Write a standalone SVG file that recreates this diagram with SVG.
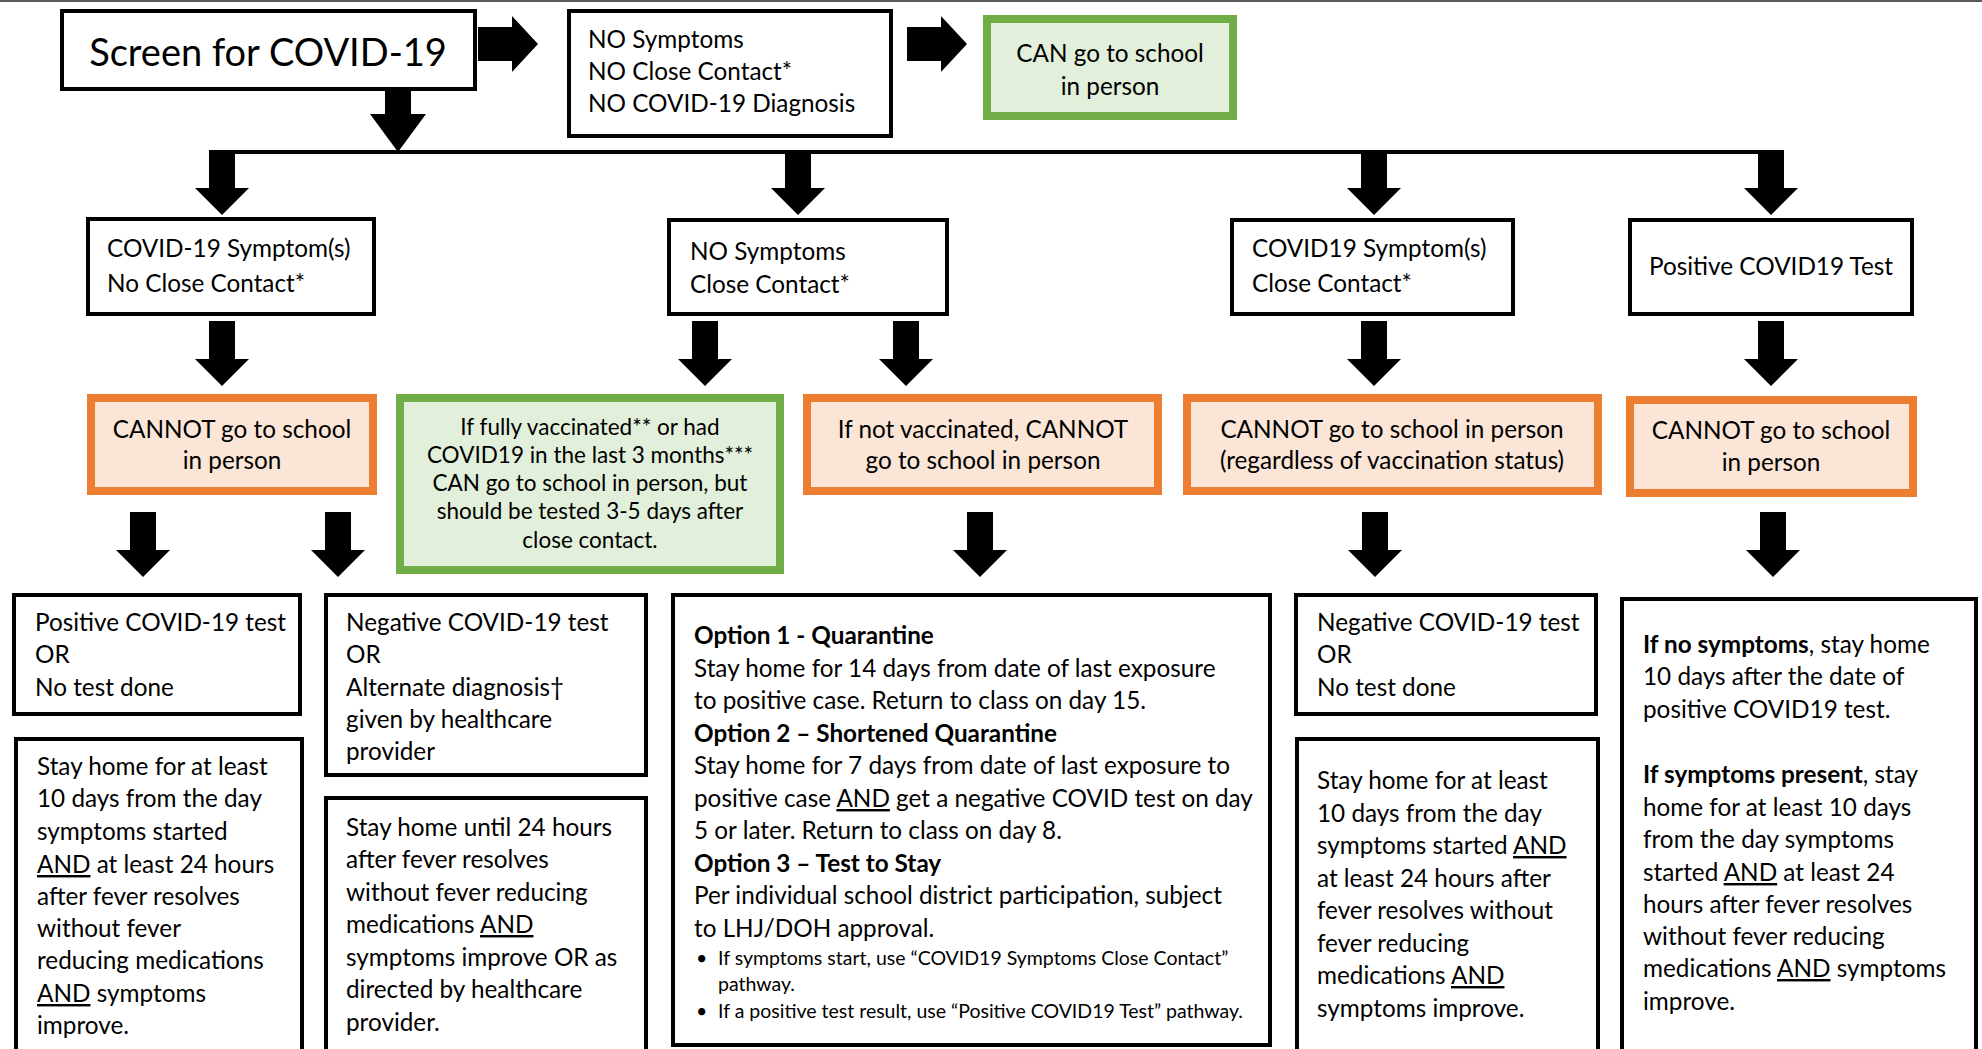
<svg xmlns="http://www.w3.org/2000/svg" xmlns:xlink="http://www.w3.org/1999/xlink" width="1982" height="1049" viewBox="0 0 1982 1049">
<style>
.box{fill:#fff;stroke:#000;stroke-width:4}
.obox{fill:#FBE5D6;stroke:#ED7D31;stroke-width:8}
.gbox{fill:#E2EFDA;stroke:#70AD47;stroke-width:8}
text{font-family:Lato,"Open Sans",sans-serif;font-size:24.3px;fill:#000}
.c{text-anchor:middle}
.title{font-size:38px}
.g{font-size:22.5px}
.sm{font-size:19.5px}
.b{font-weight:bold}
.u{text-decoration:underline}
.arrow{fill:#000}
</style>
<defs>
<path id="da" d="M-13,0 H13 V38 H27 L0,65 L-27,38 H-13 Z"/>
<path id="ra" d="M0,-17 H34 V-28 L60,0 L34,28 V17 H0 Z"/>
</defs>
<rect width="1982" height="1049" fill="#fff"/>
<line x1="0" y1="1" x2="1982" y2="1" stroke="#595959" stroke-width="2"/>

<g id="connectors" class="arrow">
<use xlink:href="#ra" x="478" y="44"/>
<use xlink:href="#ra" x="907" y="44"/>
<path d="M385,91 H411 V114 H426 L398,152 L370,114 H385 Z"/>
<line x1="222" y1="152" x2="1771" y2="152" stroke="#000" stroke-width="4"/>
<use xlink:href="#da" x="222" y="150"/>
<use xlink:href="#da" x="798" y="150"/>
<use xlink:href="#da" x="1374" y="150"/>
<use xlink:href="#da" x="1771" y="150"/>
<use xlink:href="#da" x="222" y="321"/>
<use xlink:href="#da" x="705" y="321"/>
<use xlink:href="#da" x="906" y="321"/>
<use xlink:href="#da" x="1374" y="321"/>
<use xlink:href="#da" x="1771" y="321"/>
<use xlink:href="#da" x="143" y="512"/>
<use xlink:href="#da" x="338" y="512"/>
<use xlink:href="#da" x="980" y="512"/>
<use xlink:href="#da" x="1375" y="512"/>
<use xlink:href="#da" x="1773" y="512"/>
</g>

<g id="screen">
<rect class="box" x="62" y="11" width="413" height="78"/>
<text class="title c" x="268" y="66">Screen for COVID-19</text>
</g>
<g id="no-symptoms">
<rect class="box" x="569" y="11" width="322" height="125"/>
<text x="588" y="48">NO Symptoms</text>
<text x="588" y="80">NO Close Contact*</text>
<text x="588" y="112">NO COVID-19 Diagnosis</text>
</g>
<g id="can-go">
<rect class="gbox" x="987" y="19" width="246" height="97"/>
<text class="c" x="1110" y="62">CAN go to school</text>
<text class="c" x="1110" y="95">in person</text>
</g>

<g id="sym-no-contact">
<rect class="box" x="88" y="219" width="286" height="95"/>
<text x="107" y="257">COVID-19 Symptom(s)</text>
<text x="107" y="292">No Close Contact*</text>
</g>
<g id="nosym-contact">
<rect class="box" x="669" y="220" width="278" height="94"/>
<text x="690" y="260">NO Symptoms</text>
<text x="690" y="293">Close Contact*</text>
</g>
<g id="sym-contact">
<rect class="box" x="1232" y="220" width="281" height="94"/>
<text x="1252" y="257">COVID19 Symptom(s)</text>
<text x="1252" y="292">Close Contact*</text>
</g>
<g id="positive-test">
<rect class="box" x="1630" y="220" width="282" height="94"/>
<text class="c" x="1771" y="275">Positive COVID19 Test</text>
</g>

<g id="cannot-1">
<rect class="obox" x="91" y="398" width="282" height="93"/>
<text class="c" x="232" y="438">CANNOT go to school</text>
<text class="c" x="232" y="469">in person</text>
</g>
<g id="vaccinated">
<rect class="gbox" x="400" y="398" width="380" height="172"/>
<text class="g c" x="590" y="435">If fully vaccinated** or had</text>
<text class="g c" x="590" y="463">COVID19 in the last 3 months***</text>
<text class="g c" x="590" y="491">CAN go to school in person, but</text>
<text class="g c" x="590" y="519">should be tested 3-5 days after</text>
<text class="g c" x="590" y="548">close contact.</text>
</g>
<g id="not-vaccinated">
<rect class="obox" x="807" y="398" width="351" height="93"/>
<text class="c" x="983" y="438">If not vaccinated, CANNOT</text>
<text class="c" x="983" y="469">go to school in person</text>
</g>
<g id="cannot-3">
<rect class="obox" x="1187" y="398" width="411" height="93"/>
<text class="c" x="1392" y="438">CANNOT go to school in person</text>
<text class="c" x="1392" y="469">(regardless of vaccination status)</text>
</g>
<g id="cannot-4">
<rect class="obox" x="1630" y="400" width="283" height="93"/>
<text class="c" x="1771" y="439">CANNOT go to school</text>
<text class="c" x="1771" y="471">in person</text>
</g>

<g id="positive-or-none">
<rect class="box" x="14" y="595" width="286" height="119"/>
<text x="35" y="631">Positive COVID-19 test</text>
<text x="35" y="663">OR</text>
<text x="35" y="696">No test done</text>
</g>
<g id="negative-alt">
<rect class="box" x="326" y="595" width="320" height="180"/>
<text x="346" y="631">Negative COVID-19 test</text>
<text x="346" y="663">OR</text>
<text x="346" y="696">Alternate diagnosis†</text>
<text x="346" y="728">given by healthcare</text>
<text x="346" y="760">provider</text>
</g>
<g id="options">
<rect class="box" x="673" y="595" width="597" height="450"/>
<text class="b" x="694" y="644">Option 1 - Quarantine</text>
<text x="694" y="677">Stay home for 14 days from date of last exposure</text>
<text x="694" y="709">to positive case. Return to class on day 15.</text>
<text class="b" x="694" y="742">Option 2 – Shortened Quarantine</text>
<text x="694" y="774">Stay home for 7 days from date of last exposure to</text>
<text x="694" y="807">positive case <tspan class="u">AND</tspan> get a negative COVID test on day</text>
<text x="694" y="839">5 or later. Return to class on day 8.</text>
<text class="b" x="694" y="872">Option 3 – Test to Stay</text>
<text x="694" y="904">Per individual school district participation, subject</text>
<text x="694" y="937">to LHJ/DOH approval.</text>
<text class="sm" x="696" y="965">•</text>
<text class="sm" x="718" y="965">If symptoms start, use “COVID19 Symptoms Close Contact”</text>
<text class="sm" x="718" y="991">pathway.</text>
<text class="sm" x="696" y="1018">•</text>
<text class="sm" x="718" y="1018">If a positive test result, use “Positive COVID19 Test” pathway.</text>
</g>
<g id="negative-none">
<rect class="box" x="1296" y="595" width="300" height="119"/>
<text x="1317" y="631">Negative COVID-19 test</text>
<text x="1317" y="663">OR</text>
<text x="1317" y="696">No test done</text>
</g>
<g id="positive-guidance">
<rect class="box" x="1622" y="599" width="354" height="470"/>
<text x="1643" y="653"><tspan class="b">If no symptoms</tspan>, stay home</text>
<text x="1643" y="685">10 days after the date of</text>
<text x="1643" y="718">positive COVID19 test.</text>
<text x="1643" y="783"><tspan class="b">If symptoms present</tspan>, stay</text>
<text x="1643" y="816">home for at least 10 days</text>
<text x="1643" y="848">from the day symptoms</text>
<text x="1643" y="881">started <tspan class="u">AND</tspan> at least 24</text>
<text x="1643" y="913">hours after fever resolves</text>
<text x="1643" y="945">without fever reducing</text>
<text x="1643" y="977">medications <tspan class="u">AND</tspan> symptoms</text>
<text x="1643" y="1010">improve.</text>
</g>
<g id="stay-home-1">
<rect class="box" x="16" y="739" width="286" height="330"/>
<text x="37" y="775">Stay home for at least</text>
<text x="37" y="807">10 days from the day</text>
<text x="37" y="840">symptoms started</text>
<text x="37" y="873"><tspan class="u">AND</tspan> at least 24 hours</text>
<text x="37" y="905">after fever resolves</text>
<text x="37" y="937">without fever</text>
<text x="37" y="969">reducing medications</text>
<text x="37" y="1002"><tspan class="u">AND</tspan> symptoms</text>
<text x="37" y="1034">improve.</text>
</g>
<g id="stay-home-2">
<rect class="box" x="326" y="798" width="320" height="280"/>
<text x="346" y="836">Stay home until 24 hours</text>
<text x="346" y="868">after fever resolves</text>
<text x="346" y="901">without fever reducing</text>
<text x="346" y="933">medications <tspan class="u">AND</tspan></text>
<text x="346" y="966">symptoms improve OR as</text>
<text x="346" y="998">directed by healthcare</text>
<text x="346" y="1031">provider.</text>
</g>
<g id="stay-home-3">
<rect class="box" x="1297" y="739" width="301" height="330"/>
<text x="1317" y="789">Stay home for at least</text>
<text x="1317" y="822">10 days from the day</text>
<text x="1317" y="854">symptoms started <tspan class="u">AND</tspan></text>
<text x="1317" y="887">at least 24 hours after</text>
<text x="1317" y="919">fever resolves without</text>
<text x="1317" y="952">fever reducing</text>
<text x="1317" y="984">medications <tspan class="u">AND</tspan></text>
<text x="1317" y="1017">symptoms improve.</text>
</g>
</svg>
